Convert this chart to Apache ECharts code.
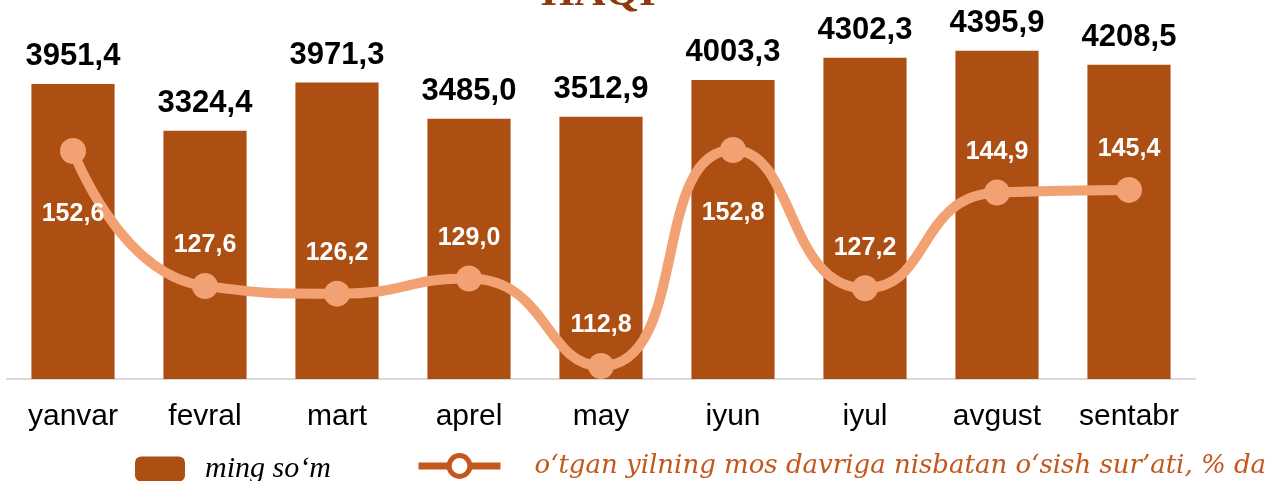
<!DOCTYPE html>
<html>
<head>
<meta charset="utf-8">
<script src="https://cdn.jsdelivr.net/npm/echarts@6/dist/echarts.min.js"></script>
<style>
  html, body { margin: 0; padding: 0; background: #fff; }
  #chart { width: 1270px; height: 481px; }
</style>
</head>
<body>
<div id="chart"></div>
<script>
var months = ['yanvar', 'fevral', 'mart', 'aprel', 'may', 'iyun', 'iyul', 'avgust', 'sentabr']
var wages = [3951.4, 3324.4, 3971.3, 3485.0, 3512.9, 4003.3, 4302.3, 4395.9, 4208.5]
var growth = [152.6, 127.6, 126.2, 129.0, 112.8, 152.8, 127.2, 144.9, 145.4]
var barName = 'ming so‘m'
var lineName = 'o‘tgan yilning mos davriga nisbatan o‘sish sur’ati, % da'

function fmt(v) {
  return v.toFixed(1).replace('.', ',')
}

var myChart = echarts.init(document.getElementById('chart'))

// labels sit above the point, except where the line peaks
var lineData = []
for (var i = 0; i < growth.length; i++) {
  var below = growth[i] > 150
  lineData.push({
    value: growth[i],
    label: {
      position: below ? 'bottom' : 'top',
      distance: below ? 38 : 15
    }
  })
}

var option = {
  animation: false,
  title: {
    text: 'HAQI',
    left: 536,
    top: -33,
    textStyle: {
      fontFamily: 'Liberation Serif',
      fontWeight: 'bold',
      fontSize: 43,
      color: '#8E3A0E'
    }
  },
  grid: {
    left: 7,
    right: 75,
    top: 30,
    bottom: 102
  },
  legend: [{
    data: [{ name: barName, icon: 'roundRect' }],
    left: 130,
    top: 449,
    itemWidth: 50,
    itemHeight: 25,
    textStyle: {
      fontFamily: 'Liberation Serif',
      fontStyle: 'italic',
      fontSize: 30,
      color: '#000',
      padding: [0, 0, 0, 15]
    }
  }, {
    data: [{
      name: lineName,
      itemStyle: { color: '#fff', borderColor: '#C4571B', borderWidth: 5 },
      lineStyle: { color: '#C4571B', width: 7 }
    }],
    left: 410,
    top: 448,
    itemWidth: 82,
    itemHeight: 26,
    textStyle: {
      fontFamily: 'DejaVu Serif',
      fontStyle: 'italic',
      fontSize: 26,
      color: '#C4571B',
      padding: [0, 0, 0, 29]
    }
  }],
  xAxis: {
    type: 'category',
    data: months,
    axisTick: { show: false },
    axisLine: { lineStyle: { color: '#D9D9D9', width: 2 } },
    axisLabel: {
      fontFamily: 'Liberation Sans',
      fontSize: 30,
      color: '#000',
      margin: 23
    }
  },
  yAxis: [{
    type: 'value',
    min: 0,
    max: 4674,
    show: false,
    splitLine: { show: false }
  }, {
    type: 'value',
    min: 110.4,
    max: 175,
    show: false,
    splitLine: { show: false }
  }],
  series: [{
    name: barName,
    type: 'bar',
    data: wages,
    barCategoryGap: '37%',
    itemStyle: { color: '#AD4E12' },
    label: {
      show: true,
      position: 'top',
      distance: 12,
      fontFamily: 'Liberation Sans',
      fontWeight: 'bold',
      fontSize: 31,
      color: '#000',
      formatter: function (p) { return fmt(p.value) }
    }
  }, {
    name: lineName,
    type: 'line',
    yAxisIndex: 1,
    data: lineData,
    smooth: 0.55,
    symbol: 'circle',
    symbolSize: 26,
    lineStyle: { color: '#F2A173', width: 10 },
    itemStyle: { color: '#F2A173' },
    label: {
      show: true,
      fontFamily: 'Liberation Sans',
      fontWeight: 'bold',
      fontSize: 25,
      color: '#fff',
      formatter: function (p) { return fmt(p.value) }
    }
  }]
}
myChart.setOption(option)
</script>
</body>
</html>
